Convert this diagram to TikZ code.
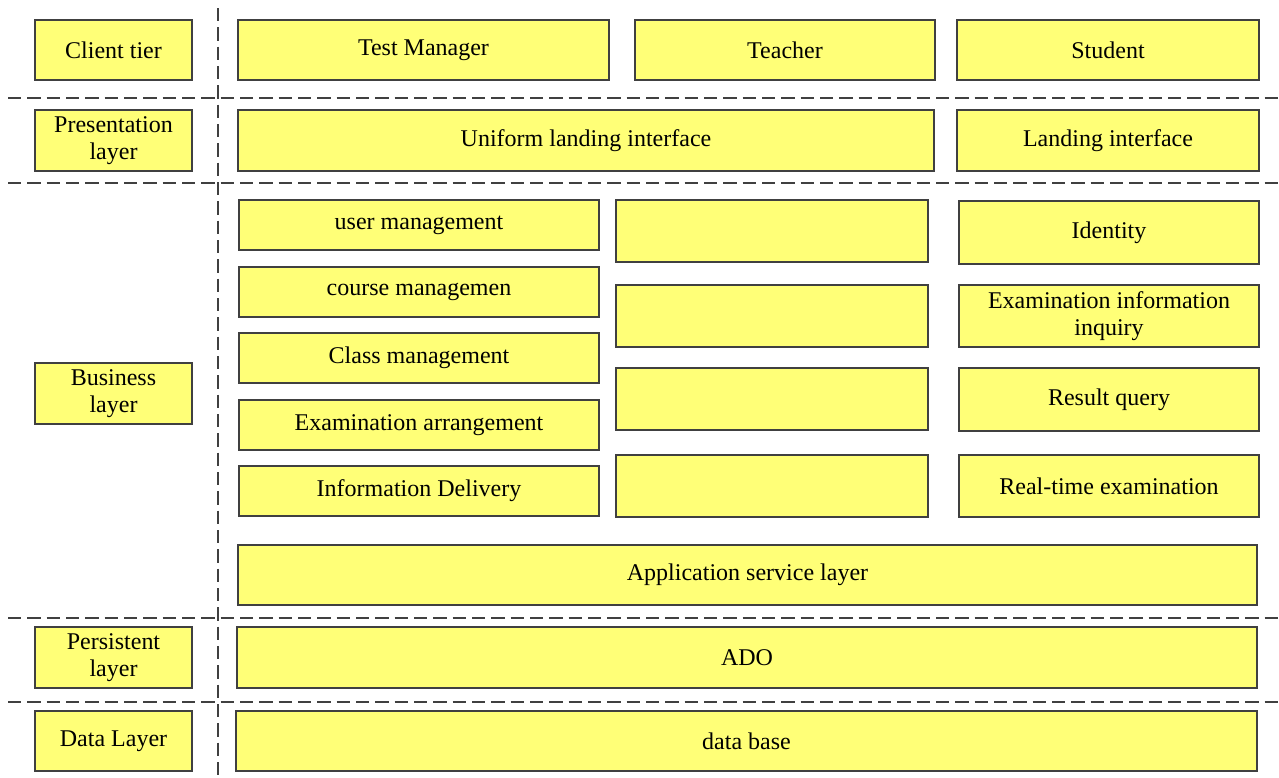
\documentclass[tikz,border=0pt]{standalone}
\usepackage{fontspec}
\setmainfont{Liberation Serif}
\usepackage{tikz}

\definecolor{boxfill}{HTML}{FFFF77}
\definecolor{boxline}{HTML}{404040}

\tikzset{
  layerbox/.style={draw=boxline, line width=1.5pt, fill=boxfill, rectangle,
    inner sep=0pt, align=center, font=\fontsize{18}{20}\selectfont},
  sepline/.style={draw=boxline, line width=1.5pt, dash pattern=on 10pt off 4.5pt}
}

\begin{document}
\begin{tikzpicture}[x=0.75pt,y=-0.75pt]
\useasboundingbox (0,0) rectangle (1279,778);

% separators
\draw[sepline] (218,8) -- (218,778);
\draw[sepline] (8,98) -- (1279,98);
\draw[sepline] (8,183) -- (1279,183);
\draw[sepline] (8,618) -- (1279,618);
\draw[sepline] (8,702) -- (1279,702);

% layer names
\node[layerbox, minimum width=118pt, minimum height=45pt] (client) at (113.5,50) {Client tier};
\node[layerbox, minimum width=118pt, minimum height=45.5pt] (present) at (113.5,140.5) {Presentation\\layer};
\node[layerbox, minimum width=118pt, minimum height=45.5pt] (business) at (113.5,393.5) {Business\\layer};
\node[layerbox, minimum width=118pt, minimum height=45.5pt] (persist) at (113.5,657.5) {Persistent\\layer};
\node[layerbox, minimum width=118pt, minimum height=45pt] (datal) at (113.5,741) {Data Layer};

% client tier
\node[layerbox, minimum width=278pt, minimum height=45pt] (manager) at (423.5,50) {Test Manager};
\node[layerbox, minimum width=225pt, minimum height=45pt] (teacher) at (785,50) {Teacher};
\node[layerbox, minimum width=226.5pt, minimum height=45pt] (student) at (1108,50) {Student};

% presentation layer
\node[layerbox, minimum width=522pt, minimum height=45.5pt] (uniform) at (586,140.5) {Uniform landing interface};
\node[layerbox, minimum width=226.5pt, minimum height=45.5pt] (landing) at (1108,140.5) {Landing interface};

% business layer, manager column
\node[layerbox, minimum width=270pt, minimum height=37.5pt] (usermgmt) at (419,225) {user management};
\node[layerbox, minimum width=270pt, minimum height=37.5pt] (coursemgmt) at (419,292) {course managemen};
\node[layerbox, minimum width=270pt, minimum height=37.5pt] (classmgmt) at (419,358) {Class management};
\node[layerbox, minimum width=270pt, minimum height=37.5pt] (arrange) at (419,425) {Examination arrangement};
\node[layerbox, minimum width=270pt, minimum height=37.5pt] (delivery) at (419,491) {Information Delivery};

% business layer, teacher column
\node[layerbox, minimum width=234pt, minimum height=46.5pt] (teach1) at (772,231) {};
\node[layerbox, minimum width=234pt, minimum height=46.5pt] (teach2) at (772,316) {};
\node[layerbox, minimum width=234pt, minimum height=46.5pt] (teach3) at (772,399) {};
\node[layerbox, minimum width=234pt, minimum height=46.5pt] (teach4) at (772,486) {};

% business layer, student column
\node[layerbox, minimum width=225pt, minimum height=47pt] (identity) at (1109,232.5) {Identity};
\node[layerbox, minimum width=225pt, minimum height=46.5pt] (inquiry) at (1109,316) {Examination information\\inquiry};
\node[layerbox, minimum width=225pt, minimum height=47pt] (result) at (1109,399.5) {Result query};
\node[layerbox, minimum width=225pt, minimum height=46.5pt] (realtime) at (1109,486) {Real-time examination};

\node[layerbox, minimum width=764pt, minimum height=45pt] (appservice) at (747.5,575) {Application service layer};

% persistent and data layers
\node[layerbox, minimum width=765pt, minimum height=45.5pt] (ado) at (747,657.5) {ADO};
\node[layerbox, minimum width=765.5pt, minimum height=45pt] (database) at (746.5,741) {data base};
\end{tikzpicture}
\end{document}
